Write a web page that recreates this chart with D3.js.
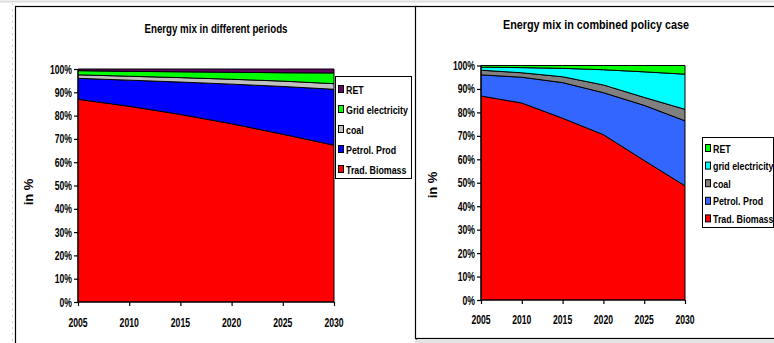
<!DOCTYPE html>
<html>
<head>
<meta charset="utf-8">
<script src="https://cdn.jsdelivr.net/npm/d3@7/dist/d3.min.js"></script>
<style>
  html, body { margin: 0; padding: 0; background: #fff; }
  svg { display: block; }
  text { font-family: "Liberation Sans", Arial, sans-serif; font-weight: bold; fill: #000; }
</style>
</head>
<body>
<svg id="chart" width="774" height="343"></svg>
<script>
// Years on the x axis
const years = [2005, 2010, 2015, 2020, 2025, 2030];
const yTicks = [0, 10, 20, 30, 40, 50, 60, 70, 80, 90, 100];

// Energy mix in different periods (shares in %)
const periodsTradBiomass = [87, 84, 80.5, 76.5, 72, 67.3];
const periodsPetrol      = [9, 11.2, 13.9, 17, 20.5, 24];
const periodsCoal        = [1.5, 1.7, 1.9, 2.1, 2.3, 2.4];
const periodsGrid        = [1.8, 2.1, 2.5, 3.0, 3.6, 4.6];
const periodsRET         = [0.7, 1.0, 1.2, 1.4, 1.6, 1.7];
const periodsNames  = ["Trad. Biomass", "Petrol. Prod", "coal", "Grid electricity", "RET"];
const periodsColors = ["#ff0000", "#0000ff", "#c0c0c0", "#00ff00", "#660066"];

// Energy mix in combined policy case (shares in %)
const policyTradBiomass = [87, 84, 77.5, 70.5, 59.5, 48.7];
const policyPetrol      = [9, 11, 15.2, 17.9, 23.5, 27.7];
const policyCoal        = [2, 1.9, 2.5, 3.3, 3.4, 4.9];
const policyGrid        = [1.3, 2.2, 3.6, 6.5, 10.9, 15.0];
const policyRET         = [0.7, 0.9, 1.2, 1.8, 2.7, 3.7];
const policyNames  = ["Trad. Biomass", "Petrol. Prod", "coal", "grid electricity", "RET"];
const policyColors = ["#ff0000", "#3366ff", "#808080", "#00ffff", "#00ff00"];

const svg = d3.select("#chart");

// condensed bold text, anchored at (x, y)
function txt(g, x, y, s, size, anchor, sx) {
  return g.append("text")
    .attr("transform", `translate(${x},${y}) scale(${sx},1)`)
    .attr("font-size", size)
    .attr("text-anchor", anchor)
    .text(s);
}

// page frame
svg.append("line").attr("x1", 0).attr("x2", 774).attr("y1", 1.5).attr("y2", 1.5)
  .attr("stroke", "#dcdcdc").attr("stroke-width", 2);
svg.append("line").attr("x1", 12.5).attr("x2", 12.5).attr("y1", 3).attr("y2", 343)
  .attr("stroke", "#d0d0d0").attr("stroke-dasharray", "2,4");

function drawChart(cfg) {
  const g = svg.append("g");
  // chart box
  g.append("rect").attr("x", cfg.box[0] + 0.5).attr("y", cfg.box[1] + 0.5)
    .attr("width", cfg.box[2] - cfg.box[0]).attr("height", cfg.box[3] - cfg.box[1])
    .attr("fill", "#fff").attr("stroke", "#000").attr("stroke-width", 1.2);

  const x = d3.scaleLinear().domain([years[0], years[years.length - 1]]).range([cfg.x0, cfg.x1]);
  const y = d3.scaleLinear().domain([0, 100]).range([cfg.y1, cfg.y0]);

  const rows = years.map((yr, i) => {
    const r = { year: yr };
    cfg.series.forEach((s, k) => r[k] = s[i]);
    return r;
  });
  const stack = d3.stack().keys(cfg.series.map((s, k) => k));
  const layers = stack(rows);
  const area = d3.area()
    .x(d => x(d.data.year))
    .y0(d => y(d[0]))
    .y1(d => y(d[1]));

  g.selectAll("path.layer").data(layers).enter().append("path")
    .attr("class", "layer")
    .attr("d", area)
    .attr("fill", (d, i) => cfg.colors[i])
    .attr("stroke", "#000")
    .attr("stroke-width", 1)
    .attr("stroke-linejoin", "round");

  // axes
  const yAxis = d3.axisLeft(y).tickValues(yTicks).tickSize(4).tickFormat(d => "");
  const ya = g.append("g").attr("transform", `translate(${cfg.x0},0)`).call(yAxis);
  const xAxis = d3.axisBottom(x).tickValues(years).tickSize(4).tickFormat(d => "");
  const xa = g.append("g").attr("transform", `translate(0,${cfg.y1})`).call(xAxis);
  [ya, xa].forEach(a => {
    a.selectAll("path,line").attr("stroke", "#000").attr("stroke-width", 1.2);
    a.select(".domain").attr("d", a === ya ? `M0,${cfg.y0}V${cfg.y1}` : `M${cfg.x0},0H${cfg.x1}`);
  });

  yTicks.forEach(v => txt(g, cfg.x0 - 6, y(v) + 4.5, v + "%", 12, "end", 0.72));
  years.forEach(v => txt(g, x(v), cfg.xLabelY, String(v), 12, "middle", 0.72));

  // titles
  g.append("text").attr("x", cfg.titleX).attr("y", cfg.titleY)
    .attr("font-size", 13).attr("text-anchor", "middle")
    .attr("textLength", cfg.titleW).attr("lengthAdjust", "spacingAndGlyphs")
    .text(cfg.title);
  g.append("text")
    .attr("transform", `translate(${cfg.yLabel[0]},${cfg.yLabel[1]}) rotate(-90)`)
    .attr("font-size", 13).attr("text-anchor", "middle")
    .text("in %");

  // legend
  const L = cfg.legend;
  g.append("rect").attr("x", L.x + 0.5).attr("y", L.y + 0.5)
    .attr("width", L.w).attr("height", L.h)
    .attr("fill", "#fff").attr("stroke", "#000").attr("stroke-width", 1);
  const order = d3.range(cfg.names.length).reverse();
  order.forEach((k, j) => {
    const cy = L.firstY + j * L.step;
    g.append("rect").attr("x", L.x + 3.5).attr("y", cy - 3.5).attr("width", 5).attr("height", 7)
      .attr("fill", cfg.colors[k]).attr("stroke", "#000").attr("stroke-width", 1);
    txt(g, L.x + 11, cy + 4.5, cfg.names[k], 11.5, "start", 0.77);
  });
}

drawChart({
  box: [15, 6, 416, 360],
  x0: 78, x1: 334, y0: 69, y1: 302,
  xLabelY: 327,
  series: [periodsTradBiomass, periodsPetrol, periodsCoal, periodsGrid, periodsRET],
  names: periodsNames, colors: periodsColors,
  title: "Energy mix in different periods", titleX: 216, titleY: 33, titleW: 143,
  yLabel: [33, 192],
  legend: { x: 335, y: 76, w: 76, h: 102, firstY: 89, step: 20 }
});

drawChart({
  box: [415, 6, 800, 338],
  x0: 481, x1: 685, y0: 65.5, y1: 300,
  xLabelY: 324,
  series: [policyTradBiomass, policyPetrol, policyCoal, policyGrid, policyRET],
  names: policyNames, colors: policyColors,
  title: "Energy mix in combined policy case", titleX: 596, titleY: 29, titleW: 186,
  yLabel: [437, 185],
  legend: { x: 702, y: 137, w: 71, h: 90, firstY: 148, step: 17.6 }
});

// strip below the policy chart
svg.append("rect").attr("x", 416).attr("y", 339.5).attr("width", 358).attr("height", 4).attr("fill", "#e4e4e4");
</script>
</body>
</html>
